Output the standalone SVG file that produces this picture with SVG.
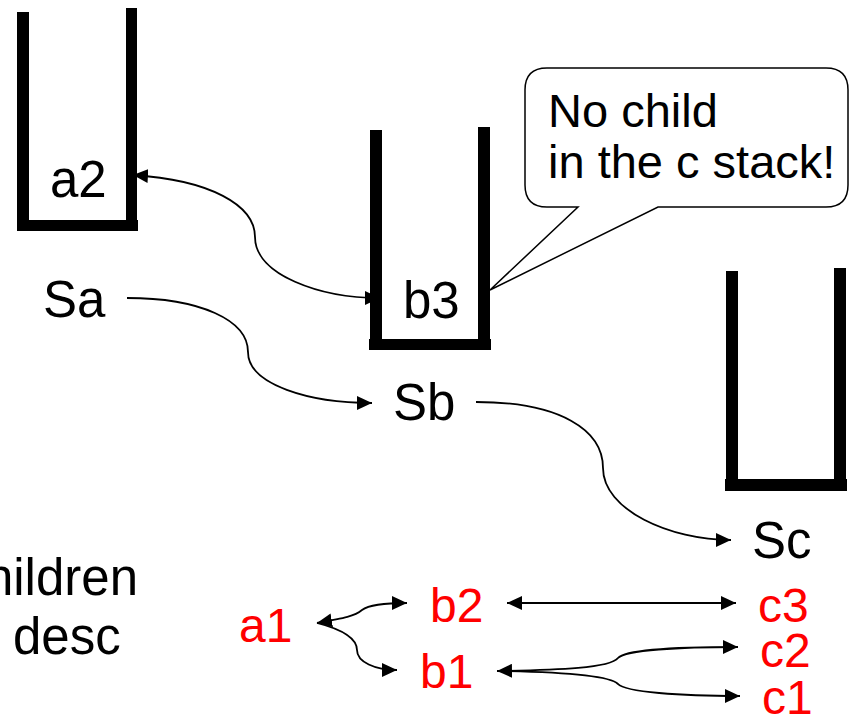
<svg xmlns="http://www.w3.org/2000/svg" width="855" height="714" viewBox="0 0 855 714">
<defs>
<style>
.lbl{font-family:"Liberation Sans",Arial,sans-serif;font-size:51px;fill:#000}
.red{font-family:"Liberation Sans",Arial,sans-serif;font-size:48px;fill:#ff0000}
.call{font-family:"Liberation Sans",Arial,sans-serif;font-size:47px;fill:#000}
.bar{fill:#000}
.con{fill:none;stroke:#000;stroke-width:1.8}
</style>
<marker id="arr" viewBox="0 0 15 14" refX="15" refY="7" markerWidth="15" markerHeight="14" markerUnits="userSpaceOnUse" orient="auto-start-reverse">
<path d="M0,0 L15,7 L0,14 Z" fill="#000"/>
</marker>
</defs>
<rect width="855" height="714" fill="#fff"/>

<g id="connectors">
<path class="con" d="M133,175 C210,180 255,205 255,237 C255,275 320,298 380,298" marker-start="url(#arr)" marker-end="url(#arr)"/>
<path class="con" d="M127,298 C200,298 248,320 248,352 C248,385 310,403 372,403" marker-end="url(#arr)"/>
<path class="con" d="M476,402 C560,402 603,430 603,468 C603,510 670,540 731,540" marker-end="url(#arr)"/>
<path class="con" d="M507,603 H736" marker-start="url(#arr)" marker-end="url(#arr)"/>
<path class="con" d="M317,623 C345,618 355,616 362,610 C370,604 390,603 407,603" marker-start="url(#arr)" marker-end="url(#arr)"/>
<path class="con" d="M317,623 C345,630 357,640 357,650 C357,662 375,670 397,670" marker-end="url(#arr)"/>
<path class="con" d="M497,671 C560,670 610,668 618,658 C625,650 680,647 738,647" marker-start="url(#arr)" marker-end="url(#arr)"/>
<path class="con" d="M497,671 C560,672 610,676 618,684 C625,692 680,696 740,696" marker-end="url(#arr)"/>
</g>

<g id="stackA">
<rect class="bar" x="17" y="12" width="12" height="219"/>
<rect class="bar" x="126" y="8" width="11" height="223"/>
<rect class="bar" x="17" y="220" width="121" height="11"/>
<text class="lbl" x="50" y="197">a2</text>
</g>
<g id="Sa"><text class="lbl" x="43" y="317">Sa</text></g>

<g id="stackB">
<rect class="bar" x="370" y="130" width="12" height="220"/>
<rect class="bar" x="478" y="127" width="12" height="223"/>
<rect class="bar" x="369" y="339" width="122" height="11"/>
<text class="lbl" x="403" y="318">b3</text>
</g>
<g id="Sb"><text class="lbl" x="393" y="420">Sb</text></g>

<g id="stackC">
<rect class="bar" x="726" y="271" width="12" height="220"/>
<rect class="bar" x="834" y="268" width="12" height="223"/>
<rect class="bar" x="725" y="479" width="122" height="12"/>
</g>
<g id="Sc"><text class="lbl" x="752" y="558">Sc</text></g>

<g id="callout">
<path d="M547,68 H826 Q848,68 848,90 V185 Q848,207 826,207 H658 L490,290 L578,207 H547 Q525,207 525,185 V90 Q525,68 547,68 Z" fill="#fff" stroke="#000" stroke-width="1.5"/>
<text class="call" x="548" y="127">No child</text>
<text class="call" x="548" y="178">in the c stack!</text>
</g>

<g id="note">
<text class="lbl" x="138" y="595" text-anchor="end">children</text>
<text class="lbl" x="13" y="654">desc</text>
</g>

<g id="a1"><text class="red" x="239" y="642">a1</text></g>
<g id="b2"><text class="red" x="430" y="622">b2</text></g>
<g id="b1"><text class="red" x="420" y="688">b1</text></g>
<g id="c3"><text class="red" x="758" y="622">c3</text></g>
<g id="c2"><text class="red" x="760" y="667">c2</text></g>
<g id="c1"><text class="red" x="762" y="714">c1</text></g>
</svg>
